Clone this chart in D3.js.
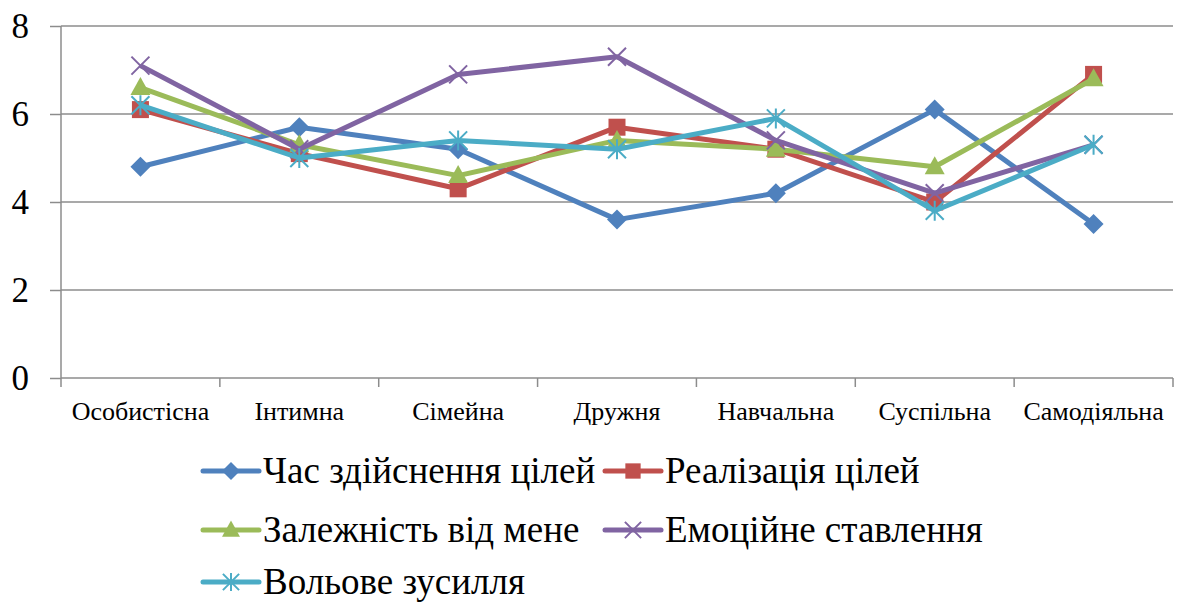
<!DOCTYPE html>
<html lang="en"><head><meta charset="utf-8">
<script src="https://cdn.jsdelivr.net/npm/d3@7"></script>
<style>
body{margin:0;background:#fff}
#wrap{position:relative;width:1177px;height:603px;overflow:hidden}
svg{display:block;position:absolute;left:0;top:0}
.lbl{position:absolute;font-family:"Liberation Serif","Times New Roman",Tinos,serif;color:#000;white-space:nowrap;line-height:1}
</style>
</head><body>
<div id="wrap"><svg id="c" width="1177" height="603"></svg></div>
<script>
const categories = ["Особистісна","Інтимна","Сімейна","Дружня","Навчальна","Суспільна","Самодіяльна"];
const seriesNames = ["Час здійснення цілей","Реалізація цілей","Залежність від мене","Емоційне ставлення","Вольове зусилля"];
const chasZdiysnennya = [4.8,5.7,5.2,3.6,4.2,6.1,3.5];
const realizatsiya    = [6.1,5.1,4.3,5.7,5.2,4.0,6.9];
const zalezhnist      = [6.6,5.3,4.6,5.4,5.2,4.8,6.8];
const emotsiyne       = [7.1,5.2,6.9,7.3,5.4,4.2,5.3];
const volove          = [6.2,5.0,5.4,5.2,5.9,3.8,5.3];
const yTicks = [0,2,4,6,8];
const colors = ["#4F81BD","#C0504D","#9BBB59","#8064A2","#4BACC6"];
const markers = ["diamond","square","triangle","x","star"];
const allValues = [chasZdiysnennya, realizatsiya, zalezhnist, emotsiyne, volove];

const svg = d3.select("#c");
const wrap = d3.select("#wrap");
const L = 61, R = 1173, T = 26, B = 378;
const x = d3.scaleBand().domain(categories).range([L, R]);
const y = d3.scaleLinear().domain([0, 8]).range([B, T]);

function drawMarker(g, type, color, s) {
  if (type === "diamond") {
    g.append("path").attr("d", `M0,${-s}L${s},0L0,${s}L${-s},0Z`).attr("fill", color);
  } else if (type === "square") {
    g.append("rect").attr("x", -s*0.85).attr("y", -s*0.85).attr("width", s*1.7).attr("height", s*1.7).attr("fill", color);
  } else if (type === "triangle") {
    g.append("path").attr("d", `M0,${-s*1.05}L${s},${s*0.75}L${-s},${s*0.75}Z`).attr("fill", color);
  } else if (type === "x") {
    g.append("path").attr("d", `M${-s*0.9},${-s*0.9}L${s*0.9},${s*0.9}M${-s*0.9},${s*0.9}L${s*0.9},${-s*0.9}`)
      .attr("stroke", color).attr("stroke-width", 2);
  } else {
    g.append("path").attr("d", `M${-s*0.9},${-s*0.9}L${s*0.9},${s*0.9}M${-s*0.9},${s*0.9}L${s*0.9},${-s*0.9}M0,${-s}L0,${s}`)
      .attr("stroke", color).attr("stroke-width", 2);
  }
}

// y ticks + gridlines
const yAx = svg.append("g").attr("transform", `translate(${L},0)`)
  .call(d3.axisLeft(y).tickValues(yTicks).tickSize(11).tickFormat(""));
yAx.select(".domain").remove();
yAx.selectAll(".tick line").attr("stroke", "#8c8c8c").attr("stroke-width", 1.5);
svg.append("g").selectAll("line").data(yTicks).join("line")
  .attr("x1", L).attr("x2", R).attr("y1", d => y(d)).attr("y2", d => y(d))
  .attr("stroke", "#8c8c8c").attr("stroke-width", 1.5);
svg.append("line").attr("x1", L).attr("x2", L).attr("y1", T).attr("y2", B).attr("stroke", "#8c8c8c").attr("stroke-width", 1.5);

// y labels (HTML text, right-aligned to x=29, vertically centred on gridline)
wrap.selectAll("div.ylab").data(yTicks).join("div").attr("class", "lbl ylab")
  .style("font-size", "35px")
  .style("right", (1177 - 29) + "px")
  .style("top", d => (y(d) - 17) + "px")
  .text(d => d);

// x ticks and labels
const bounds = categories.map(c => x(c)).concat([R]);
svg.append("g").selectAll("line").data(bounds).join("line")
  .attr("x1", d => d).attr("x2", d => d).attr("y1", B).attr("y2", B + 9)
  .attr("stroke", "#8c8c8c").attr("stroke-width", 1.5);
svg.append("g").selectAll("text").data(categories).join("text")
  .attr("x", d => x(d) + x.bandwidth() / 2).attr("y", 420)
  .attr("text-anchor", "middle").attr("font-family", "Liberation Serif").attr("font-size", 26).attr("fill", "#000")
  .text(d => d);

// series
const line = d3.line().x((d, i) => x(categories[i]) + x.bandwidth() / 2).y(d => y(d));
allValues.forEach((vals, si) => {
  const g = svg.append("g");
  g.append("path").datum(vals).attr("d", line).attr("fill", "none")
    .attr("stroke", colors[si]).attr("stroke-width", 5).attr("stroke-linejoin", "round");
  vals.forEach((v, i) => {
    const m = g.append("g").attr("transform", `translate(${x(categories[i]) + x.bandwidth() / 2},${y(v)})`);
    drawMarker(m, markers[si], colors[si], 10);
  });
});

// legend
const legendPos = [[203,471],[605,471],[203,530],[605,530],[203,582]];
seriesNames.forEach((name, si) => {
  const [lx, ly] = legendPos[si];
  const g = svg.append("g").attr("transform", `translate(${lx},${ly})`);
  g.append("line").attr("x1", 0).attr("x2", 56).attr("y1", 0).attr("y2", 0)
    .attr("stroke", colors[si]).attr("stroke-width", 5).attr("stroke-linecap", "round");
  const m = g.append("g").attr("transform", "translate(28,0)");
  drawMarker(m, markers[si], colors[si], 9);
  wrap.append("div").attr("class", "lbl")
    .style("font-size", "37px")
    .style("left", (lx + 60) + "px")
    .style("top", (ly - 19) + "px")
    .text(name);
});
</script>
</body></html>
